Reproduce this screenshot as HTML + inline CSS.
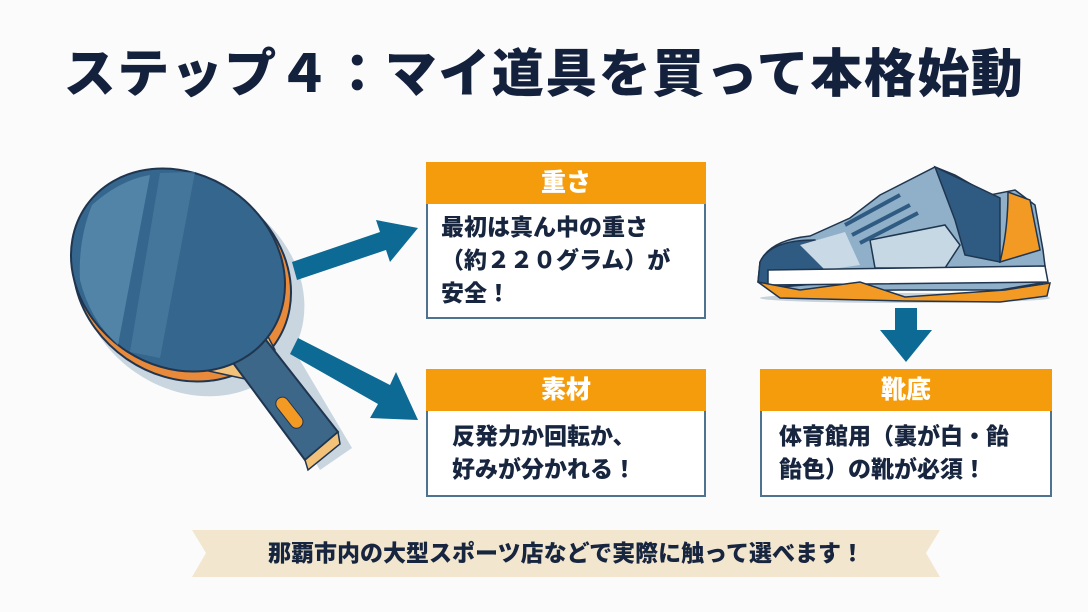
<!DOCTYPE html>
<html><head><meta charset="utf-8"><style>
body{margin:0;width:1088px;height:612px;background:#fbfbfb;overflow:hidden;position:relative;font-family:"Liberation Sans","Noto Sans CJK JP",sans-serif;}
.t{position:absolute;left:0;width:1088px;top:40px;text-align:center;font-size:52px;font-weight:900;color:#14213d;letter-spacing:1.5px;line-height:70px;}
.box{position:absolute;border:2px solid #4d7390;background:#fff;box-sizing:border-box;}
.hd{background:#f59c0c;color:#fff;font-weight:900;font-size:25px;text-align:center;height:42px;line-height:42px;margin:-2px -2px 0 -2px;}
.bd{font-weight:900;font-size:23px;color:#17253f;line-height:33px;padding:7px 0 0 13px;white-space:nowrap;}
</style></head><body>
<div class="t">ステップ４：マイ道具を買って本格始動</div>
<svg width="1088" height="612" style="position:absolute;left:0;top:0">
 <g>
  <ellipse cx="192" cy="290" rx="118" ry="100" transform="rotate(35 192 290)" fill="#c9d6e0"/>
  <path d="M250 350 L320 470 L352 448 L285 335 Z" fill="#c9d6e0"/>
  <ellipse cx="182" cy="278" rx="114" ry="98" transform="rotate(35 182 278)" fill="#e98a3a" stroke="#1f3550" stroke-width="2"/>
  <path d="M195 368 L262 325 L275 350 L250 380 Z" fill="#f3c27a" stroke="#1f3550" stroke-width="1.5"/>
  <path d="M225 352 L262 335 L338 432 L305 460 Z" fill="#3d6789" stroke="#1f3550" stroke-width="2"/>
  <path d="M305 460 L338 432 L340 444 L308 470 Z" fill="#f3c27a" stroke="#1f3550" stroke-width="1.5"/>
  <rect x="283" y="395" width="13" height="36" rx="6.5" transform="rotate(-38 289 413)" fill="#f39a24" stroke="#1f3550" stroke-width="1"/>
  <ellipse cx="178" cy="270" rx="112" ry="96" transform="rotate(35 178 270)" fill="#35678e" stroke="#1f3550" stroke-width="2"/>
  <path d="M92 205 Q120 180 150 175 L118 345 Q90 320 80 280 Q78 240 92 205 Z" fill="#5f91b2" opacity="0.7"/>
  <path d="M160 173 L195 172 L160 358 L130 352 Z" fill="#4e80a4" opacity="0.6"/>
 </g>
 <polygon points="292,262 380,232 376,220 418,228 390,262 386,250 297,280" fill="#0c6a94"/>
 <polygon points="290,354 298,338 390,385 396,372 418,420 370,418 378,404" fill="#0c6a94"/>
 <polygon points="895,308 917,308 917,330 932,330 906,362 880,330 895,330" fill="#0c6a94"/>
 <g stroke="#1f3550" stroke-width="1.5">
  <ellipse cx="905" cy="298" rx="145" ry="5" fill="#c8d2da" stroke="none"/>
  <path d="M760 262 Q770 240 810 236 L850 218 L880 195 L935 167 L955 175 L990 195 L1015 190 L1035 205 L1043 250 L1047 282 L1000 290 L900 290 L775 292 L758 282 Z" fill="#8fb0c8"/>
  <path d="M760 262 Q770 240 815 240 L838 282 L770 288 L758 282 Z" fill="#2f5b82"/>
  <path d="M800 245 L845 232 L860 265 L825 270 Z" fill="#c9dae6" stroke="none"/>
  <path d="M1008 192 L1030 200 L1040 250 L1000 262 Q1008 230 1008 192 Z" fill="#f39a24"/>
  <path d="M935 167 L958 178 L1000 198 L1000 262 L965 255 L955 220 Z" fill="#2f5b82"/>
  <path d="M870 240 L945 225 L960 245 L945 268 L875 268 Z" fill="#c6d8e4"/>
  <path d="M845 225 L900 195 M852 235 L910 205 M860 243 L918 213" stroke="#2f5b82" stroke-width="4" fill="none"/>
  <path d="M768 270 L1045 266 L1048 282 L768 285 Z" fill="#fff"/>
  <path d="M758 282 L800 290 L860 282 L905 297 L1005 290 L1050 283 L1047 296 L1000 302 L905 301 L780 298 Z" fill="#f39a24"/>
 </g>
 <polygon points="192,530 940,530 926,553 940,577 192,577 206,553" fill="#f2e6cf"/>
</svg>
<div class="box" style="left:426px;top:162px;width:280px;height:157px"><div class="hd">重さ</div><div class="bd">最初は真ん中の重さ<br>（約２２０グラム）が<br>安全！</div></div>
<div class="box" style="left:426px;top:369px;width:280px;height:128px"><div class="hd">素材</div><div class="bd" style="padding-left:24px;padding-top:9px">反発力か回転か、<br>好みが分かれる！</div></div>
<div class="box" style="left:760px;top:369px;width:292px;height:128px"><div class="hd">靴底</div><div class="bd" style="padding-left:17px;padding-top:9px">体育館用（裏が白・飴<br>飴色）の靴が必須！</div></div>
<div style="position:absolute;left:192px;width:748px;top:530px;height:47px;line-height:47px;text-align:center;font-weight:900;font-size:23px;color:#17253f">那覇市内の大型スポーツ店などで実際に触って選べます！</div>
</body></html>
